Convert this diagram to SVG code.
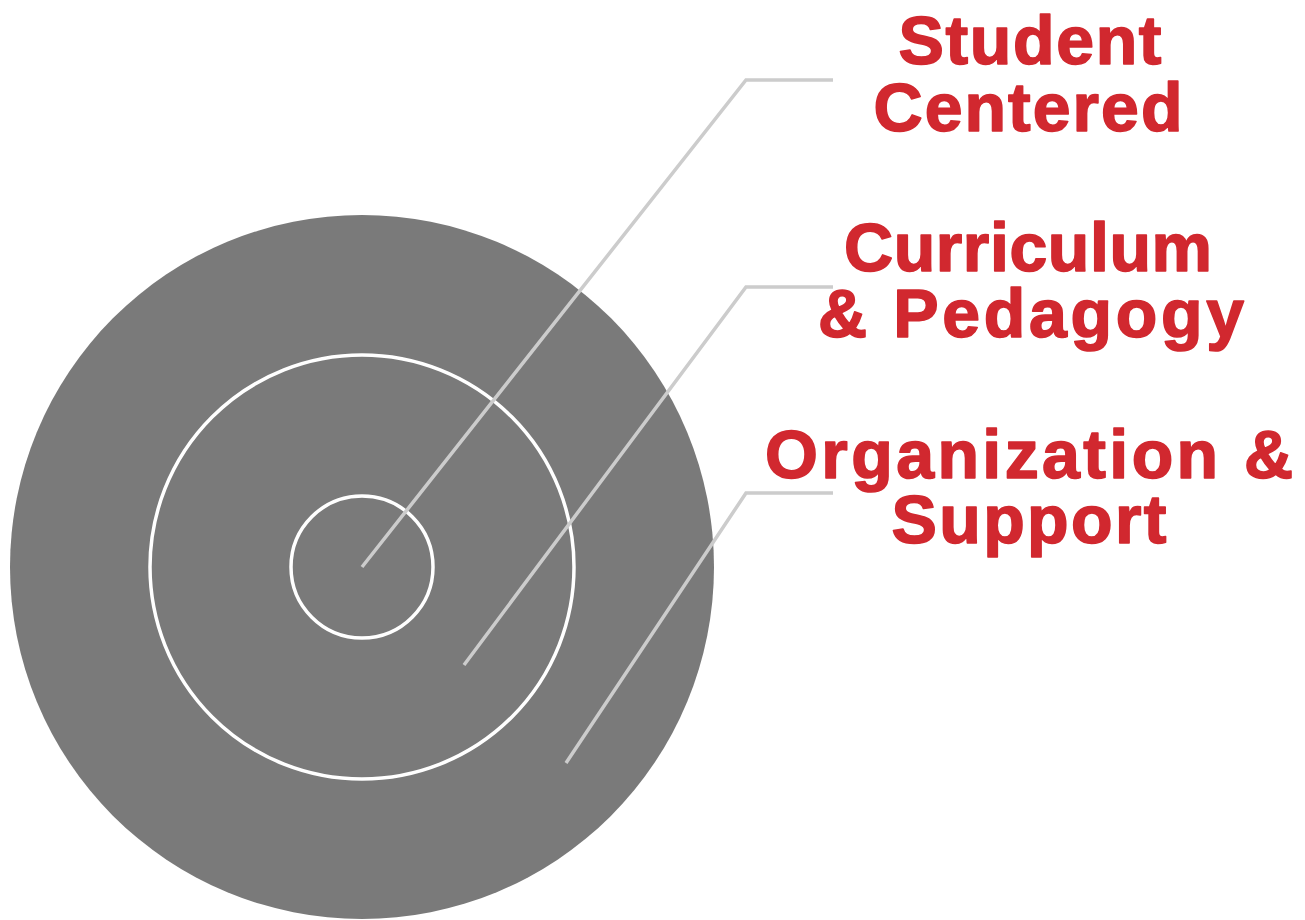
<svg xmlns="http://www.w3.org/2000/svg" width="1305" height="920" viewBox="0 0 1305 920">
  <style>
    .ring { fill: none; stroke: #ffffff; stroke-width: 3.5; }
    .leader { fill: none; stroke: #cccccc; stroke-width: 3.5; stroke-linejoin: miter; }
    .label { font-family: "Liberation Sans", Arial, sans-serif; font-weight: 700; font-size: 68px; fill: #d1282f; stroke: #d1282f; stroke-width: 1.6; stroke-linejoin: round; text-anchor: middle; }
  </style>
  <rect width="1305" height="920" fill="#ffffff"/>

  <!-- concentric layers -->
  <g id="organization-support">
    <circle cx="362" cy="567" r="352" fill="#7a7a7a"/>
  </g>
  <g id="curriculum-pedagogy">
    <circle class="ring" cx="362" cy="567" r="212"/>
  </g>
  <g id="student-centered">
    <circle class="ring" cx="362" cy="567" r="71"/>
  </g>

  <!-- leader lines from each layer to its label -->
  <g id="connectors">
    <polyline class="leader" points="362,567 746,80 833,80"/>
    <polyline class="leader" points="464,665 746,287 833,287"/>
    <polyline class="leader" points="566,763 746,493 833,493"/>
  </g>

  <!-- labels -->
  <g id="label-student-centered">
    <text class="label" x="1030" y="64" textLength="263" lengthAdjust="spacing">Student</text>
    <text class="label" x="1028" y="131" textLength="309" lengthAdjust="spacing">Centered</text>
  </g>
  <g id="label-curriculum-pedagogy">
    <text class="label" x="1028" y="271" textLength="368" lengthAdjust="spacing">Curriculum</text>
    <text class="label" x="1031" y="337" textLength="426" lengthAdjust="spacing">&amp; Pedagogy</text>
  </g>
  <g id="label-organization-support">
    <text class="label" x="1029" y="478" textLength="528" lengthAdjust="spacing">Organization &amp;</text>
    <text class="label" x="1029" y="543" textLength="275" lengthAdjust="spacing">Support</text>
  </g>
</svg>
